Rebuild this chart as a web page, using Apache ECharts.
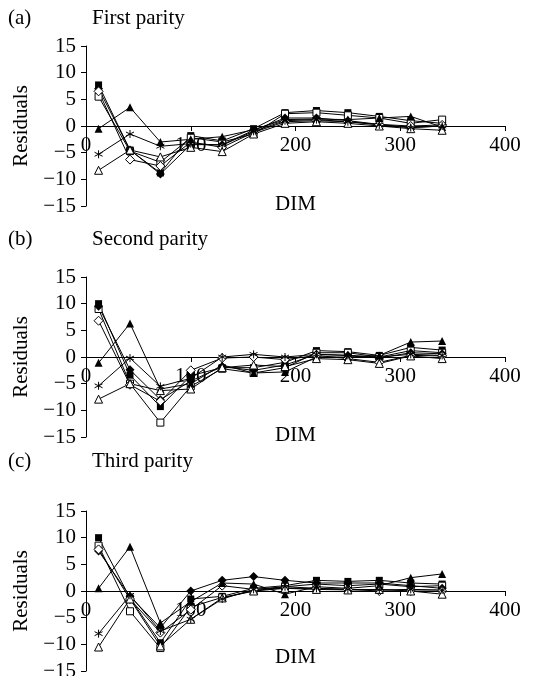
<!DOCTYPE html>
<html>
<head>
<meta charset="utf-8">
<script src="https://cdn.jsdelivr.net/npm/echarts@6/dist/echarts.min.js"></script>
<style>
html,body{margin:0;padding:0;background:#fff;}
#chart{width:550px;height:676px;}
</style>
</head>
<body>
<div id="chart"></div>
<script>
// DIM (days in milk) for every point
var dim = [12, 42, 71, 100, 130, 160, 190, 220, 250, 280, 310, 340];
var xTicks = [0, 100, 200, 300, 400];
var yTicks = [-15, -10, -5, 0, 5, 10, 15];

// (a) First parity
var a_sqFill = [7.7, -4.5, -8.8, -1.8, -2.8, -0.5, 2.5, 2.9, 2.5, 1.8, 1.0, 0.5];
var a_sqOpen = [5.5, -4.7, -6.8, -2.2, -3.0, -1.5, 2.3, 2.5, 2.0, 1.5, 0.5, 1.2];
var a_diFill = [7.0, -4.5, -9.0, -3.5, -3.5, -0.8, 1.5, 1.5, 1.0, 0.3, -0.3, 0.0];
var a_diOpen = [6.5, -6.3, -7.5, -3.0, -4.0, -1.2, 0.8, 1.0, 0.8, 0.3, 0.0, 0.2];
var a_trFill = [-0.5, 3.5, -3.0, -2.5, -2.0, -0.7, 1.2, 1.3, 1.2, 1.5, 1.8, -0.2];
var a_trOpen = [-8.3, -4.5, -5.8, -4.0, -4.8, -1.5, 0.5, 0.8, 0.5, 0.0, -0.5, -0.8];
var a_star   = [-5.3, -1.5, -3.8, -3.3, -3.6, -1.0, 1.0, 1.2, 0.8, 0.2, -0.3, 0.0];

// (b) Second parity
var b_sqFill = [10.0, -3.4, -9.3, -3.5, -2.0, -2.0, -1.0, 1.2, 1.0, 0.3, 1.8, 1.3];
var b_sqOpen = [9.0, -5.0, -12.3, -5.5, -2.2, -3.0, -2.0, 0.8, 0.8, 0.0, 1.2, 0.8];
var b_diFill = [9.5, -2.4, -8.0, -4.5, -1.8, -2.5, -1.5, 0.5, 0.3, -0.2, 0.8, 0.6];
var b_diOpen = [6.8, -5.2, -8.3, -2.5, -0.2, 0.0, -0.5, 0.3, -0.3, -1.0, 0.3, 0.2];
var b_trFill = [-1.1, 6.3, -6.0, -5.0, -1.5, -3.0, -2.8, 0.0, 0.0, 0.3, 2.8, 3.0];
var b_trOpen = [-7.9, -5.0, -6.3, -6.0, -2.0, -1.5, -1.8, -0.3, -0.5, -1.2, 0.2, -0.3];
var b_star   = [-5.4, -0.2, -5.5, -4.0, 0.0, 0.5, 0.0, 0.5, 0.3, 0.0, 0.5, 0.3];

// (c) Third parity
var c_sqFill = [10.0, -1.3, -9.7, -1.5, -1.0, 0.5, 1.0, 2.0, 1.8, 2.0, 1.5, 1.3];
var c_sqOpen = [8.5, -3.8, -10.7, -3.0, -1.2, 0.0, 0.8, 1.3, 1.0, 1.3, 0.8, 1.0];
var c_diFill = [7.5, -1.0, -6.9, 0.0, 2.0, 2.7, 2.0, 1.5, 1.5, 1.5, 1.0, 0.5];
var c_diOpen = [7.8, -1.5, -7.8, -3.5, 1.0, 0.3, 0.5, 0.5, 0.3, 0.0, 0.0, 0.0];
var c_trFill = [0.5, 8.3, -6.0, -2.0, 1.5, 1.3, -0.6, 0.8, 0.5, 1.0, 2.5, 3.2];
var c_trOpen = [-10.5, -1.5, -10.3, -5.3, -1.3, 0.0, 0.5, 0.3, 0.2, 0.3, 0.0, -0.6];
var c_star   = [-8.0, -0.8, -7.5, -5.3, -1.5, 0.3, 0.8, 0.5, 0.3, 0.2, 0.3, 0.2];

var panels = [
    {tag: '(a)', name: 'First parity',  top: 46,  titleTop: 8,   dimGap: 68, data: [a_sqFill, a_sqOpen, a_diFill, a_diOpen, a_trFill, a_trOpen, a_star]},
    {tag: '(b)', name: 'Second parity', top: 277, titleTop: 229, dimGap: 68, data: [b_sqFill, b_sqOpen, b_diFill, b_diOpen, b_trFill, b_trOpen, b_star]},
    {tag: '(c)', name: 'Third parity',  top: 511, titleTop: 451, dimGap: 56, data: [c_sqFill, c_sqOpen, c_diFill, c_diOpen, c_trFill, c_trOpen, c_star]}
];

var font = 'Liberation Serif';
var fs = 21;
var star = 'path://M5,0L5,10M0.7,2.5L9.3,7.5M9.3,2.5L0.7,7.5';
// marker for each series: symbol, size, filled?
var marks = [
    ['rect', 7, true], ['rect', 7, false],
    ['diamond', 9, true], ['diamond', 9, false],
    ['triangle', 8, true], ['triangle', 8, false],
    [star, 8, false]
];

var grid = [], xAxis = [], yAxis = [], series = [], title = [];
panels.forEach(function (p, i) {
    grid.push({left: 86, width: 419, top: p.top, height: 160, outerBoundsMode: 'none', containLabel: false});
    title.push({text: p.tag, left: 8, top: p.titleTop, padding: 0, textStyle: {fontFamily: font, fontSize: fs, fontWeight: 'normal', color: '#000'}});
    title.push({text: p.name, left: 92, top: p.titleTop, padding: 0, textStyle: {fontFamily: font, fontSize: fs, fontWeight: 'normal', color: '#000'}});
    xAxis.push({
        gridIndex: i, type: 'value', min: 0, max: 400, interval: 100,
        position: 'bottom', offset: -80,   // x axis runs through zero
        name: 'DIM', nameLocation: 'middle', nameGap: p.dimGap,
        nameTextStyle: {fontFamily: font, fontSize: fs, color: '#000'},
        axisLine: {onZero: false, lineStyle: {color: '#000', width: 1}},
        axisTick: {show: true, length: 5, lineStyle: {color: '#000'}},
        axisLabel: {fontFamily: font, fontSize: fs, color: '#000', margin: 9,
            formatter: function (v) { return xTicks.indexOf(v) >= 0 ? String(v) : ''; }},
        splitLine: {show: false}
    });
    yAxis.push({
        gridIndex: i, type: 'value', min: -15, max: 15, interval: 5,
        name: 'Residuals', nameLocation: 'middle', nameGap: 52, nameRotate: 90,
        nameTextStyle: {fontFamily: font, fontSize: fs, color: '#000'},
        axisLine: {show: true, lineStyle: {color: '#000', width: 1}},
        axisTick: {show: true, length: 5, lineStyle: {color: '#000'}},
        axisLabel: {fontFamily: font, fontSize: fs, color: '#000', margin: 10,
            formatter: function (v) { return yTicks.indexOf(v) >= 0 ? String(v).replace('-', '\u2212') : ''; }},
        splitLine: {show: false}
    });
    p.data.forEach(function (vals, k) {
        var m = marks[k];
        series.push({
            type: 'line', xAxisIndex: i, yAxisIndex: i,
            data: dim.map(function (d, j) { return [d, vals[j]]; }),
            symbol: m[0], symbolSize: m[1], showSymbol: true,
            lineStyle: {color: '#000', width: 1},
            itemStyle: m[2] ? {color: '#000'} : {color: '#fff', borderColor: '#000', borderWidth: 1},
            animation: false, silent: true
        });
    });
});

var chart = echarts.init(document.getElementById('chart'));
chart.setOption({
    backgroundColor: '#fff',
    animation: false,
    title: title,
    grid: grid,
    xAxis: xAxis,
    yAxis: yAxis,
    series: series
});
</script>
</body>
</html>
